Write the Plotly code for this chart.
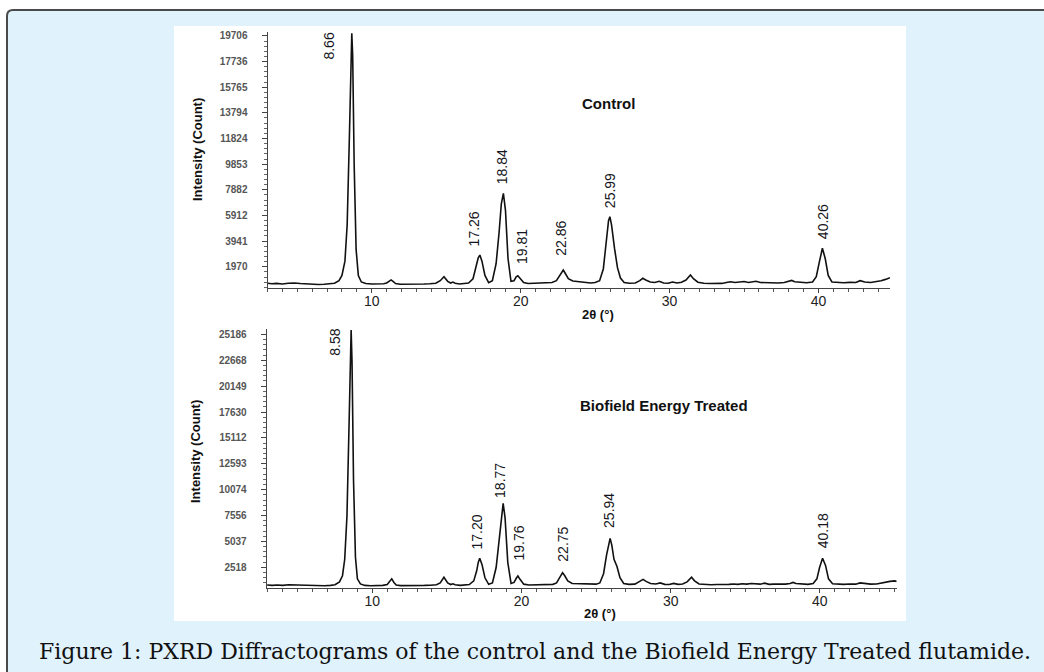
import plotly.graph_objects as go

W, H = 1044, 672

# ---------------- data ----------------
tth_control = [3.0, 3.3, 3.6, 4.0, 4.4, 4.8, 5.2, 5.6, 6.0, 6.4, 6.8, 7.2, 7.5, 7.8, 8.0, 8.2, 8.35, 8.5, 8.6, 8.66,
               8.72, 8.82, 8.95, 9.1, 9.3, 9.6, 10.0, 10.4, 10.8, 11.0, 11.15, 11.3, 11.45, 11.6, 11.9, 12.3, 12.7,
               13.1, 13.5, 13.9, 14.3, 14.6, 14.85, 15.1, 15.3, 15.45, 15.6, 15.9, 16.2, 16.5, 16.8, 17.0, 17.15,
               17.26, 17.4, 17.6, 17.85, 18.1, 18.35, 18.55, 18.7, 18.84, 18.98, 19.15, 19.35, 19.55, 19.7, 19.81,
               19.95, 20.2, 20.5, 20.9, 21.3, 21.7, 22.1, 22.4, 22.65, 22.86, 23.0, 23.2, 23.5, 23.9, 24.3, 24.7,
               25.0, 25.3, 25.55, 25.75, 25.9, 25.99, 26.1, 26.3, 26.5, 26.7, 26.95, 27.3, 27.7, 28.0, 28.2, 28.4,
               28.7, 29.0, 29.3, 29.6, 29.9, 30.2, 30.5, 30.8, 31.1, 31.4, 31.6, 31.9, 32.3, 32.7, 33.1, 33.5, 33.9,
               34.1, 34.4, 34.7, 35.0, 35.3, 35.6, 35.8, 36.1, 36.5, 36.9, 37.3, 37.7, 38.0, 38.2, 38.4, 38.8, 39.2,
               39.6, 39.85, 40.05, 40.26, 40.45, 40.65, 40.9, 41.3, 41.7, 42.1, 42.5, 42.8, 43.1, 43.5, 43.9, 44.2,
               44.5, 44.8]
int_control = [700, 660, 690, 650, 700, 720, 680, 640, 620, 610, 620, 640, 700, 900, 1300, 2400, 5200, 12000, 18600,
               19900, 18200, 9800, 3300, 1300, 800, 680, 640, 630, 660, 720, 850, 960, 820, 680, 630, 620, 630,
               620, 640, 660, 700, 900, 1200, 850, 720, 790, 700, 640, 660, 720, 1050, 1900, 2650,
               2870, 2400, 1300, 750, 900, 2200, 4600, 6800, 7600, 6300, 2600, 850, 900, 1200, 1280,
               1100, 760, 680, 700, 720, 740, 760, 900, 1400, 1720, 1450, 1050, 880, 820, 760, 720,
               760, 900, 1800, 3800, 5500, 5810, 5200, 3400, 1900, 1100, 760, 700, 720, 900, 1080, 950,
               800, 760, 850, 720, 700, 800, 720, 780, 950, 1340, 1050, 780, 700, 680, 700, 690, 780,
               820, 760, 800, 840, 760, 820, 860, 760, 740, 760, 720, 760, 850, 920, 820, 760, 740,
               800, 1200, 2300, 3390, 2600, 1300, 800, 760, 740, 770, 760, 900, 800, 760, 820, 900,
               1000, 1130]

tth_treated = [2.95, 3.3, 3.6, 4.0, 4.4, 4.8, 5.2, 5.6, 6.0, 6.4, 6.8, 7.2, 7.5, 7.8, 8.0, 8.15, 8.3, 8.45, 8.53,
               8.58, 8.64, 8.74, 8.87, 9.0, 9.2, 9.5, 9.9, 10.3, 10.7, 11.0, 11.15, 11.3, 11.45, 11.6, 11.9, 12.3,
               12.7, 13.1, 13.5, 13.9, 14.3, 14.55, 14.8, 15.05, 15.25, 15.4, 15.55, 15.9, 16.2, 16.5, 16.8, 17.0,
               17.1, 17.2, 17.35, 17.55, 17.8, 18.05, 18.3, 18.5, 18.65, 18.77, 18.9, 19.08, 19.3, 19.5, 19.65,
               19.76, 19.9, 20.15, 20.5, 20.9, 21.3, 21.7, 22.1, 22.35, 22.58, 22.75, 22.9, 23.1, 23.4, 23.8,
               24.2, 24.6, 25.0, 25.25, 25.5, 25.7, 25.85, 25.94, 26.05, 26.2, 26.4, 26.6, 26.85, 27.2, 27.6,
               27.9, 28.15, 28.35, 28.65, 29.0, 29.3, 29.6, 29.9, 30.2, 30.5, 30.8, 31.1, 31.4, 31.6, 31.9, 32.3,
               32.7, 33.1, 33.5, 33.9, 34.2, 34.5, 34.8, 35.1, 35.4, 35.7, 36.0, 36.3, 36.6, 36.9, 37.3, 37.7,
               38.0, 38.2, 38.4, 38.8, 39.2, 39.55, 39.8, 39.98, 40.18, 40.38, 40.58, 40.85, 41.2, 41.6, 42.0,
               42.4, 42.7, 43.0, 43.4, 43.8, 44.1, 44.4, 44.7, 45.0, 45.15]
int_treated = [800, 760, 800, 760, 820, 800, 760, 720, 720, 710, 720, 760, 820, 1100, 1700, 3300, 7500, 17000, 24000,
               25600, 22500, 11000, 3500, 1400, 900, 760, 720, 740, 760, 850, 1100, 1400, 1050, 800, 740, 730,
               740, 730, 760, 780, 820, 1000, 1550, 1000, 840, 920, 820, 760, 780, 840, 1200, 2200,
               3000, 3400, 2800, 1500, 860, 1000, 2500, 5200, 7700, 8750, 7300, 3000, 950, 1050, 1450,
               1670, 1350, 880, 800, 810, 820, 840, 860, 1000, 1600, 2000, 1700, 1200, 950, 920,
               880, 840, 880, 1000, 1900, 3700, 5000, 5340, 4700, 3300, 2600, 1500, 950, 860, 880,
               1100, 1350, 1150, 950, 900, 1000, 860, 850, 950, 860, 900, 1100, 1550, 1200, 900, 840,
               820, 850, 830, 860, 900, 860, 920, 880, 950, 900, 880, 980, 860, 880, 850, 880,
               950, 1050, 950, 880, 860, 950, 1400, 2500, 3400, 2700, 1400, 920, 880, 860, 900,
               880, 1000, 950, 880, 900, 1000, 1080, 1150, 1200, 1150]

labels_control = ["8.66", "17.26", "18.84", "19.81", "22.86", "25.99", "40.26"]
labels_treated = ["8.58", "17.20", "18.77", "19.76", "22.75", "25.94", "40.18"]

yticks_control = ["1970", "3941", "5912", "7882", "9853", "11824", "13794", "15765", "17736", "19706"]
yticks_treated = ["2518", "5037", "7556", "10074", "12593", "15112", "17630", "20149", "22668", "25186"]

# ---------------- styles ----------------
BG = "#e0f2fc"
shift_control = [(-23, 0), (-6, 7), (-1, 7), (4, 10), (-3, 12), (0, 7), (0, 7)]
shift_treated = [(-17, 0), (-3, 7), (-3, 3), (1, 14), (1, 9), (-1, 8), (0, 8)]


def px(x):
    return x / W


def py(y):
    return 1 - y / H


fig = go.Figure()
fig.add_trace(go.Scatter(x=tth_control, y=int_control, mode="lines",
                         line=dict(color="#111111", width=1.6), xaxis="x", yaxis="y", showlegend=False))
fig.add_trace(go.Scatter(x=tth_treated, y=int_treated, mode="lines",
                         line=dict(color="#111111", width=1.6), xaxis="x2", yaxis="y2", showlegend=False))

tick_font = dict(family="Liberation Sans", size=10, color="#555555", weight="bold")
xtick_font = dict(family="Liberation Sans", size=14, color="#222222")


def yaxis_cfg(ticks, rng, dom, anchor):
    vals = [int(t) for t in ticks]
    step = vals[0]
    minor_vals = [step * k / 5 for k in range(1, 5 * len(vals) + 3)]
    return dict(domain=dom, range=rng, anchor=anchor, tickmode="array", tickvals=vals, ticktext=ticks,
                showline=True, linecolor="#444444", linewidth=1, ticks="outside", ticklen=5,
                tickcolor="#444444", tickwidth=1, tickfont=tick_font, ticklabelstandoff=12,
                showgrid=False, zeroline=False,
                minor=dict(tickmode="array", tickvals=minor_vals, ticks="outside", ticklen=3,
                           tickcolor="#666666", showgrid=False))


def xaxis_cfg(rng, dom, anchor):
    return dict(domain=dom, range=rng, anchor=anchor, tickmode="linear", tick0=0, dtick=10,
                showline=True, linecolor="#444444", linewidth=1, ticks="outside", ticklen=4,
                tickcolor="#444444", tickfont=xtick_font, ticklabelstandoff=-3,
                showgrid=False, zeroline=False,
                minor=dict(tick0=0, dtick=1, ticks="outside", ticklen=3, tickcolor="#555555", showgrid=False))


fig.update_layout(
    width=W, height=H, margin=dict(l=0, r=0, t=0, b=0),
    paper_bgcolor="white", plot_bgcolor="rgba(0,0,0,0)",
    xaxis=xaxis_cfg([3, 44.8], [px(267.5), px(890)], "y"),
    yaxis=yaxis_cfg(yticks_control, [376, 20022], [py(287.5), py(31.7)], "x"),
    xaxis2=xaxis_cfg([2.92, 45.15], [px(266.7), px(896.7)], "y2"),
    yaxis2=yaxis_cfg(yticks_treated, [555, 25677], [py(587.5), py(329.3)], "x2"),
)

# frame and white panel
r = 6
frame_path = (f"M {px(7)},{py(H + 5)} L {px(7)},{py(10 + r)} Q {px(7)},{py(10)} {px(7 + r)},{py(10)} "
              f"L {px(W + 5)},{py(10)} L {px(W + 5)},{py(H + 5)} Z")
fig.add_shape(type="path", path=frame_path, xref="paper", yref="paper", layer="below",
              fillcolor=BG, line=dict(color="#4a4a4a", width=2))
fig.add_shape(type="rect", xref="paper", yref="paper", x0=px(174), x1=px(906), y0=py(621), y1=py(26),
              fillcolor="white", line=dict(width=0), layer="below")

label_font = dict(family="Liberation Sans Narrow, Liberation Sans", size=14, color="#151520")


def add_labels(labels, tth, inten, shifts, xa, ya):
    for lab, (dx, dy) in zip(labels, shifts):
        pos = float(lab)
        i = tth.index(pos)
        if dy == 0:
            fig.add_annotation(x=pos, y=inten[i], xref=xa, yref=ya, text=lab, textangle=-90,
                               showarrow=False, xanchor="center", yanchor="top", xshift=dx, yshift=3,
                               font=label_font)
        else:
            fig.add_annotation(x=pos, y=inten[i], xref=xa, yref=ya, text=lab, textangle=-90,
                               showarrow=False, xanchor="center", yanchor="bottom", xshift=dx, yshift=dy,
                               font=label_font)


add_labels(labels_control, tth_control, int_control, shift_control, "x", "y")
add_labels(labels_treated, tth_treated, int_treated, shift_treated, "x2", "y2")


def text_at(x, y, text, font, angle=0):
    fig.add_annotation(x=px(x), y=py(y), xref="paper", yref="paper", text=text, textangle=angle,
                       showarrow=False, xanchor="center", yanchor="middle", font=font)


title_font = dict(family="Liberation Sans", size=15, color="#111111")
text_at(608, 103, "<b>Control</b>", title_font)
text_at(664, 405, "<b>Biofield Energy Treated</b>", title_font)

ytitle_font = dict(family="Liberation Sans Narrow, Liberation Sans", size=13, color="#111111")
text_at(197, 150, "<b>Intensity (Count)</b>", ytitle_font, -90)
text_at(195, 452, "<b>Intensity (Count)</b>", ytitle_font, -90)

xtitle_font = dict(family="Liberation Sans", size=13, color="#111111")
text_at(598, 314, "<b>2θ (°)</b>", xtitle_font)
text_at(600, 613, "<b>2θ (°)</b>", xtitle_font)

text_at(535, 651, "Figure 1: PXRD Diffractograms of the control and the Biofield Energy Treated flutamide.",
        dict(family="DejaVu Serif", size=22, color="#111111"))

fig.write_html("out.html", config={"displayModeBar": False},
               post_script="document.body.style.margin='0px';")
